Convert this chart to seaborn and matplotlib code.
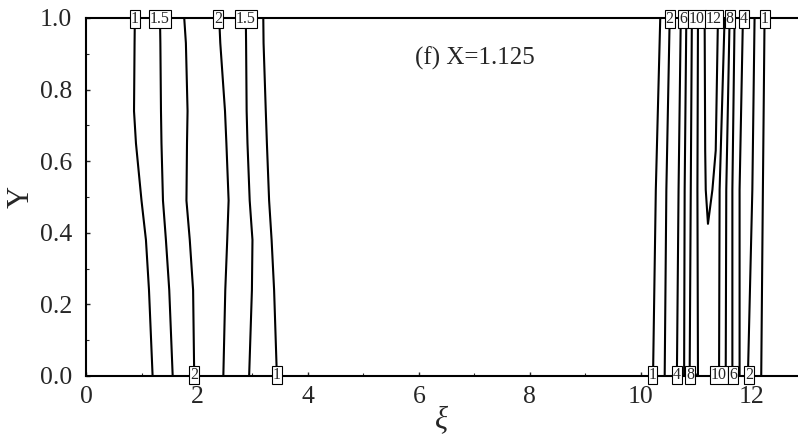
import numpy as np
import pandas as pd
import seaborn as sns
import matplotlib
matplotlib.use('Agg')
import matplotlib.pyplot as plt
from matplotlib.ticker import MultipleLocator

# contour lines of the left group, sampled at common Y heights
Y_LEFT = [1.0, 0.93, 0.74, 0.65, 0.49, 0.38, 0.24, 0.0]
LEFT_LEVELS = [1, 1.5, 2, 2, 1.5, 1]
LEFT_XI = [
	[0.88, 0.875, 0.865, 0.90, 1.00, 1.08, 1.135, 1.20],
	[1.333, 1.34, 1.351, 1.36, 1.387, 1.44, 1.50, 1.562],
	[1.77, 1.80, 1.83, 1.82, 1.81, 1.87, 1.93, 1.95],
	[2.40, 2.42, 2.505, 2.53, 2.57, 2.545, 2.51, 2.475],
	[2.88, 2.885, 2.895, 2.91, 2.95, 3.00, 2.99, 2.94],
	[3.195, 3.20, 3.24, 3.26, 3.30, 3.345, 3.39, 3.44],
]

# right group: nearly straight lines, read at top / middle / bottom
Y_RIGHT = [1.0, 0.52, 0.0]
RIGHT_LEVELS = [1, 2, 4, 6, 8, 10, 10, 8, 6, 4, 2, 1]
RIGHT_XI_TOP = [10.35, 10.52, 10.72, 10.82, 10.92, 11.03, 11.51, 11.60, 11.69, 11.84, 12.05, 12.23]
RIGHT_XI_MID = [10.27, 10.46, 10.68, 10.79, 10.90, 11.02, 11.42, 11.54, 11.65, 11.78, 12.01, 12.20]
RIGHT_XI_BOT = [10.22, 10.43, 10.65, 10.78, 10.88, 11.03, 11.41, 11.53, 11.65, 11.78, 11.93, 12.17]

# the closed V-shaped level 12 contour
PEAK_Y = [1.0, 0.63, 0.52, 0.425, 0.52, 0.63, 1.0]
PEAK_XI = [11.15, 11.16, 11.17, 11.21, 11.29, 11.35, 11.39]

# inline labels
TOP_LABELS = ['1', '1.5', '2', '1.5', '2', '6', '10', '12', '8', '4', '1']
TOP_LABEL_XI = [0.883, 1.333, 2.38, 2.88, 10.52, 10.76, 11.01, 11.32, 11.60, 11.86, 12.23]
BOTTOM_LABELS = ['2', '1', '1', '4', '8', '10', '6', '2']
BOTTOM_LABEL_XI = [1.95, 3.44, 10.21, 10.65, 10.89, 11.41, 11.66, 11.95]

rows = []
for i, xs in enumerate(LEFT_XI):
	for x, y in zip(xs, Y_LEFT):
		rows.append({'xi': x, 'Y': y, 'line': f'L{i}'})
for i in range(len(RIGHT_LEVELS)):
	for x, y in zip([RIGHT_XI_TOP[i], RIGHT_XI_MID[i], RIGHT_XI_BOT[i]], Y_RIGHT):
		rows.append({'xi': x, 'Y': y, 'line': f'R{i}'})
for x, y in zip(PEAK_XI, PEAK_Y):
	rows.append({'xi': x, 'Y': y, 'line': 'peak'})
df = pd.DataFrame(rows)

sns.set_style('ticks')
plt.rcParams['font.family'] = ['Liberation Serif', 'DejaVu Serif']

fig = plt.figure(figsize=(7.98, 4.46), dpi=100)
ax = fig.add_axes([0.1078, 0.157, 0.892, 0.8027])

sns.lineplot(data=df, x='xi', y='Y', units='line', estimator=None, sort=False,
			 color='black', lw=1.5, legend=False, ax=ax)

box = dict(boxstyle='square,pad=0.06', fc='white', ec='black', lw=0.8)
for txt, x in zip(TOP_LABELS, TOP_LABEL_XI):
	ax.text(x, 0.997, txt, ha='center', va='center', fontsize=11.5, clip_on=False, zorder=5, bbox=box)
for txt, x in zip(BOTTOM_LABELS, BOTTOM_LABEL_XI):
	ax.text(x, 0.004, txt, ha='center', va='center', fontsize=11.5, clip_on=False, zorder=5, bbox=box)

ax.text(5.93, 0.888, '(f) X=1.125', ha='left', va='center', fontsize=18)

ax.set_xlim(0, 12.83)
ax.set_ylim(0, 1)
ax.xaxis.set_major_locator(MultipleLocator(2))
ax.xaxis.set_minor_locator(MultipleLocator(1))
ax.yaxis.set_major_locator(MultipleLocator(0.2))
ax.yaxis.set_minor_locator(MultipleLocator(0.1))
ax.yaxis.set_major_formatter(plt.FormatStrFormatter('%.1f'))
ax.tick_params(which='major', direction='in', length=3, width=1, labelsize=18.5)
ax.tick_params(axis='y', which='major', pad=10)
ax.tick_params(axis='x', which='major', pad=7)
ax.tick_params(which='minor', direction='in', length=2, width=0.8)

for side in ['left', 'top', 'bottom']:
	ax.spines[side].set_linewidth(1.5)
	ax.spines[side].set_color('black')
ax.spines['right'].set_visible(False)

ax.set_xlabel('ξ', fontsize=22, style='italic', labelpad=-2)
ax.set_ylabel('Y', fontsize=22, labelpad=3)

fig.savefig('out.png', dpi=100)
